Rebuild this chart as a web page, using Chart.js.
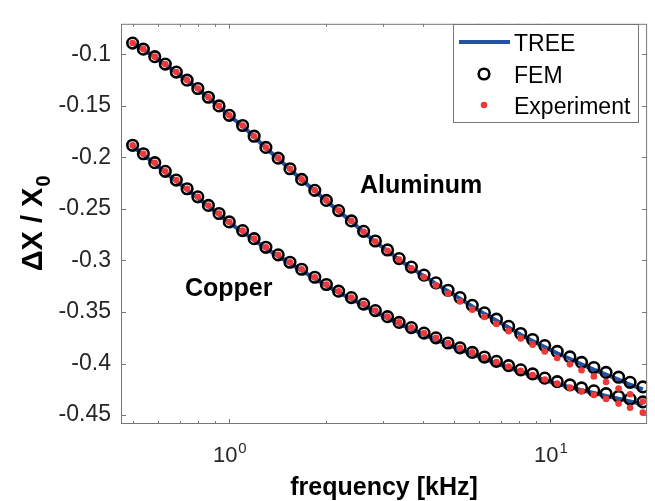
<!DOCTYPE html>
<html>
<head>
<meta charset="utf-8">
<script src="https://cdn.jsdelivr.net/npm/chart.js@4"></script>
<style>
  html, body { margin: 0; padding: 0; background: #fff; }
  canvas { display: block; }
</style>
</head>
<body>
<canvas id="myChart" width="655" height="501"></canvas>
<script>
// frequency points [kHz]
var freq = [0.50, 0.54, 0.586, 0.632, 0.684, 0.739, 0.798, 0.861, 0.929, 1.00,
  1.10, 1.195, 1.30, 1.42, 1.545, 1.68, 1.846, 2.006, 2.19, 2.40,
  2.62, 2.85, 3.11, 3.38, 3.69, 4.04, 4.40, 4.80, 5.23, 5.71,
  6.23, 6.79, 7.41, 8.08, 8.80, 9.60, 10.5, 11.5, 12.5, 13.65,
  14.9, 16.3, 17.7, 19.4];

// aluminum
var alTree = [-0.0895, -0.0954, -0.1027, -0.1099, -0.1177, -0.1255, -0.1336, -0.1421, -0.1505, -0.1596,
  -0.1695, -0.1799, -0.1908, -0.2012, -0.2115, -0.2218, -0.2324, -0.2422, -0.2521, -0.2621,
  -0.2727, -0.2821, -0.2908, -0.2992, -0.3074, -0.3152, -0.3227, -0.3299, -0.3370, -0.3445,
  -0.3518, -0.3582, -0.3651, -0.3721, -0.3782, -0.3841, -0.3900, -0.3954, -0.4008, -0.4059,
  -0.4107, -0.4155, -0.4206, -0.4251];
var alFem = [-0.0890, -0.0949, -0.1022, -0.1094, -0.1172, -0.1250, -0.1331, -0.1416, -0.1500, -0.1591,
  -0.1690, -0.1794, -0.1903, -0.2007, -0.2110, -0.2213, -0.2319, -0.2417, -0.2516, -0.2616,
  -0.2717, -0.2811, -0.2898, -0.2982, -0.3064, -0.3142, -0.3217, -0.3289, -0.3360, -0.3435,
  -0.3508, -0.3570, -0.3639, -0.3709, -0.3767, -0.3826, -0.3883, -0.3936, -0.3989, -0.4039,
  -0.4086, -0.4133, -0.4183, -0.4227];
var alExp = [-0.0890, -0.0949, -0.1022, -0.1094, -0.1172, -0.1250, -0.1331, -0.1416, -0.1500, -0.1591,
  -0.1690, -0.1794, -0.1903, -0.2007, -0.2110, -0.2213, -0.2319, -0.2417, -0.2516, -0.2616,
  -0.2721, -0.2817, -0.2905, -0.2992, -0.3076, -0.3163, -0.3242, -0.3320, -0.3398, -0.3477,
  -0.3548, -0.3617, -0.3686, -0.3756, -0.3817, -0.3883, -0.3946, -0.4008, -0.4066, -0.4125,
  -0.4180, -0.4242, -0.4298, -0.4368];

// copper
var cuTree = [-0.1892, -0.1974, -0.2061, -0.2145, -0.2230, -0.2314, -0.2392, -0.2476, -0.2554, -0.2636,
  -0.2722, -0.2800, -0.2884, -0.2957, -0.3029, -0.3097, -0.3176, -0.3246, -0.3311, -0.3374,
  -0.3438, -0.3501, -0.3561, -0.3617, -0.3667, -0.3721, -0.3768, -0.3818, -0.3866, -0.3910,
  -0.3956, -0.3998, -0.4041, -0.4081, -0.4121, -0.4161, -0.4197, -0.4229, -0.4258, -0.4286,
  -0.4315, -0.4341, -0.4367, -0.4396];
var cuFem = [-0.1882, -0.1964, -0.2051, -0.2135, -0.2220, -0.2304, -0.2382, -0.2466, -0.2544, -0.2626,
  -0.2710, -0.2788, -0.2872, -0.2945, -0.3017, -0.3085, -0.3163, -0.3233, -0.3298, -0.3360,
  -0.3423, -0.3486, -0.3545, -0.3601, -0.3651, -0.3705, -0.3751, -0.3801, -0.3848, -0.3892,
  -0.3937, -0.3979, -0.4021, -0.4061, -0.4101, -0.4141, -0.4176, -0.4208, -0.4237, -0.4265,
  -0.4293, -0.4319, -0.4345, -0.4373];
var cuExp = [-0.1882, -0.1964, -0.2051, -0.2135, -0.2220, -0.2304, -0.2382, -0.2466, -0.2544, -0.2626,
  -0.2710, -0.2788, -0.2872, -0.2945, -0.3017, -0.3085, -0.3163, -0.3233, -0.3298, -0.3360,
  -0.3423, -0.3486, -0.3545, -0.3601, -0.3651, -0.3705, -0.3751, -0.3801, -0.3848, -0.3892,
  -0.3942, -0.3986, -0.4030, -0.4070, -0.4112, -0.4155, -0.4195, -0.4234, -0.4269, -0.4305,
  -0.4345, -0.4389, -0.4430, -0.4477];

// axis ticks
var xMajor = [1, 10];
var xMajorExp = ['0', '1'];
var xMinor = [0.5, 0.6, 0.7, 0.8, 0.9, 2, 3, 4, 5, 6, 7, 8, 9];
var yTicks = [-0.45, -0.4, -0.35, -0.3, -0.25, -0.2, -0.15, -0.1];

var seriesNames = ['TREE', 'FEM', 'Experiment'];

var FONT = "'Liberation Sans', Arial, Helvetica, sans-serif";
var BLUE = '#2152a3';
var RED = '#ef3838';
var AXIS = '#777777';
var TXT = '#262626';

function pts(ys) {
  return freq.map(function (f, i) { return { x: f, y: ys[i] }; });
}

function treeSet(ys) {
  return { data: pts(ys), borderColor: BLUE, borderWidth: 4, pointRadius: 0,
    showLine: true, fill: false, tension: 0, order: 3 };
}
function femSet(ys) {
  return { data: pts(ys), showLine: false, pointStyle: 'circle', pointRadius: 5.3,
    pointBorderWidth: 2.6, pointBorderColor: '#000', pointBackgroundColor: 'rgba(0,0,0,0)', order: 2 };
}
function expSet(ys) {
  return { data: pts(ys), showLine: false, pointStyle: 'circle', pointRadius: 3.3,
    pointBorderWidth: 0, pointBackgroundColor: RED, pointBorderColor: RED, order: 1 };
}

// box, inward ticks, x tick labels, axis titles, text labels and legend
var decorations = {
  id: 'decorations',
  afterDatasetsDraw: function (chart) {
    var ctx = chart.ctx, a = chart.chartArea, x = chart.scales.x, y = chart.scales.y;
    ctx.save();

    ctx.strokeStyle = AXIS;
    ctx.lineWidth = 1;
    ctx.strokeRect(a.left + 0.5, a.top + 0.5, a.right - a.left - 1, a.bottom - a.top - 1);

    ctx.beginPath();
    xMinor.forEach(function (v) {
      var px = Math.round(x.getPixelForValue(v)) + 0.5;
      ctx.moveTo(px, a.bottom); ctx.lineTo(px, a.bottom - 3);
      ctx.moveTo(px, a.top); ctx.lineTo(px, a.top + 3);
    });
    xMajor.forEach(function (v) {
      var px = Math.round(x.getPixelForValue(v)) + 0.5;
      ctx.moveTo(px, a.bottom); ctx.lineTo(px, a.bottom - 5);
      ctx.moveTo(px, a.top); ctx.lineTo(px, a.top + 5);
    });
    yTicks.forEach(function (v) {
      var py = Math.round(y.getPixelForValue(v)) + 0.5;
      ctx.moveTo(a.left, py); ctx.lineTo(a.left + 5, py);
      ctx.moveTo(a.right, py); ctx.lineTo(a.right - 5, py);
    });
    ctx.stroke();

    // 10^n labels
    ctx.fillStyle = TXT;
    ctx.textBaseline = 'alphabetic';
    ctx.textAlign = 'left';
    xMajor.forEach(function (v, i) {
      var px = x.getPixelForValue(v);
      ctx.font = '22px ' + FONT;
      var wb = ctx.measureText('10').width;
      ctx.font = '15px ' + FONT;
      var ws = ctx.measureText(xMajorExp[i]).width;
      var left = px - (wb + ws) / 2;
      ctx.font = '22px ' + FONT;
      ctx.fillText('10', left, 462);
      ctx.font = '15px ' + FONT;
      ctx.fillText(xMajorExp[i], left + wb + 1, 453);
    });

    // x title
    ctx.fillStyle = '#000';
    ctx.font = 'bold 25px ' + FONT;
    ctx.textAlign = 'center';
    ctx.fillText('frequency [kHz]', (a.left + a.right) / 2, 495);

    // y title, rotated, with subscript
    ctx.save();
    ctx.translate(42, (a.top + a.bottom) / 2);
    ctx.rotate(-Math.PI / 2);
    ctx.textAlign = 'left';
    ctx.font = 'bold 29px ' + FONT;
    var main = '\u0394X / X';
    var wm = ctx.measureText(main).width;
    ctx.font = 'bold 20px ' + FONT;
    var wsub = ctx.measureText('0').width;
    var sx = -(wm + wsub) / 2;
    ctx.font = 'bold 29px ' + FONT;
    ctx.fillText(main, sx, 0);
    ctx.font = 'bold 20px ' + FONT;
    ctx.fillText('0', sx + wm + 1, 8);
    ctx.restore();

    // material labels
    ctx.font = 'bold 25px ' + FONT;
    ctx.textAlign = 'left';
    ctx.fillText('Aluminum', 360, 193);
    ctx.fillText('Copper', 185, 296);

    // legend
    var lx = 453.5, ly = 24.5, lw = 185, lh = 98;
    ctx.fillStyle = '#fff';
    ctx.fillRect(lx, ly, lw, lh);
    ctx.strokeStyle = AXIS;
    ctx.lineWidth = 1;
    ctx.strokeRect(lx, ly, lw, lh);

    ctx.strokeStyle = BLUE;
    ctx.lineWidth = 4;
    ctx.beginPath(); ctx.moveTo(459, 42); ctx.lineTo(510, 42); ctx.stroke();

    ctx.strokeStyle = '#000';
    ctx.lineWidth = 2.6;
    ctx.beginPath(); ctx.arc(484, 74, 5.3, 0, Math.PI * 2); ctx.stroke();

    ctx.fillStyle = RED;
    ctx.beginPath(); ctx.arc(484, 105, 3.3, 0, Math.PI * 2); ctx.fill();

    ctx.fillStyle = '#000';
    ctx.font = '23px ' + FONT;
    ctx.fillText(seriesNames[0], 514, 51);
    ctx.fillText(seriesNames[1], 514, 83);
    ctx.fillText(seriesNames[2], 514, 114);

    ctx.restore();
  }
};

(function () {
  var ctx = document.getElementById('myChart');

  // eslint-disable-next-line no-unused-vars
  var myChart = new Chart(ctx, {
    type: 'scatter',
    data: {
      datasets: [
        expSet(alExp), expSet(cuExp),
        femSet(alFem), femSet(cuFem),
        treeSet(alTree), treeSet(cuTree)
      ]
    },
    options: {
      responsive: false,
      animation: false,
      devicePixelRatio: 1,
      layout: { padding: { top: 11, right: 4, left: 0, bottom: 0 } },
      plugins: { legend: { display: false }, tooltip: { enabled: false } },
      scales: {
        x: {
          type: 'logarithmic',
          min: 0.46,
          max: 20,
          ticks: { display: false },
          grid: { display: false, drawTicks: false },
          border: { display: false },
          afterFit: function (s) { s.height = 77; }
        },
        y: {
          type: 'linear',
          min: -0.4587,
          max: -0.0703,
          ticks: {
            stepSize: 0.05,
            includeBounds: false,
            padding: 10,
            color: TXT,
            font: { family: FONT, size: 23 },
            callback: function (v) { return String(Number(v.toFixed(2))); }
          },
          grid: { display: false, drawTicks: false },
          border: { display: false },
          afterFit: function (s) { s.width = 121; }
        }
      }
    },
    plugins: [decorations]
  });
}());
</script>
</body>
</html>
